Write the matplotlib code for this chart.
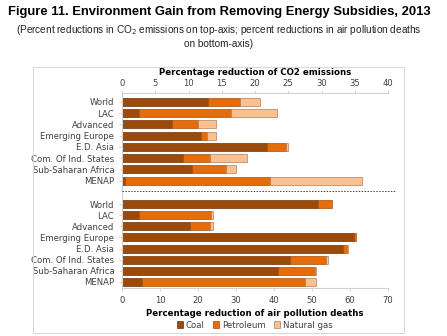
import matplotlib.pyplot as plt
from matplotlib.patches import Rectangle
from matplotlib.lines import Line2D
import numpy as np

regions = ["World", "LAC", "Advanced", "Emerging Europe", "E.D. Asia",
           "Com. Of Ind. States", "Sub-Saharan Africa", "MENAP"]

# CO2 emission reductions (segment sizes)
co2_coal = [12.9, 2.6, 7.5, 11.9, 21.8, 9.1, 10.6, 0.4]
co2_petroleum = [4.9, 13.8, 4.0, 0.9, 2.8, 4.1, 5.0, 21.8]
co2_gas = [3.0, 6.9, 2.7, 1.4, 0.4, 5.6, 1.6, 13.9]

# air pollution death reductions
death_coal = [51.6, 4.5, 17.9, 61.1, 58.1, 44.2, 41.0, 5.2]
death_petroleum = [3.6, 19.0, 5.3, 0.4, 1.2, 9.4, 9.9, 42.9]
death_gas = [0.1, 0.5, 0.8, 0.2, 0.2, 0.7, 0.1, 3.0]

series_names = ["Coal", "Petroleum", "Natural gas"]
colors = ["#9C4A0A", "#E46C0A", "#FAC08F"]
edges = ["#6E3306", "#A84E08", "#B07F5A"]

W, H = 447, 336
fig = plt.figure(figsize=(W / 100, H / 100), dpi=100)
plt.rcParams["font.family"] = ["DejaVu Sans"]


def fx(px):
    return px / W


def fy(py):
    return 1 - py / H


fig.text(fx(219), fy(12), "Figure 11. Environment Gain from Removing Energy Subsidies, 2013",
         ha="center", va="center", fontsize=9.35, fontweight="bold",
         family="Liberation Sans")
fig.text(fx(219), fy(36), "(Percent reductions in CO$_2$ emissions on top-axis; percent reductions in air pollution deaths\non bottom-axis)",
         ha="center", va="center", fontsize=7.2, family="Liberation Sans",
         color="#222222", linespacing=1.25)

# outer chart frame
fig.patches.append(Rectangle((fx(33), fy(333)), fx(404) - fx(33), fy(66.7) - fy(333),
                             transform=fig.transFigure, fill=False,
                             edgecolor="#D9D9D9", linewidth=0.8))

left, right = fx(122), fx(388)
ax_top = fig.add_axes([left, fy(191), right - left, fy(93.3) - fy(191)])
ax_bot = fig.add_axes([left, fy(288), right - left, fy(191) - fy(288)])

y = np.arange(len(regions))
bar_h = 0.72


def draw(ax, vals, xmax, step):
    base = np.zeros(len(regions))
    for v, c, e, name in zip(vals, colors, edges, series_names):
        ax.barh(y, v, left=base, height=bar_h, color=c, edgecolor=e,
                linewidth=0.5, label=name)
        base = base + np.array(v)
    ax.set_xlim(0, xmax)
    ax.set_xticks(np.arange(0, xmax + 1, step))
    ax.set_yticks(y)
    ax.set_yticklabels(regions)
    for s in ax.spines.values():
        s.set_visible(False)
    ax.tick_params(axis="both", labelsize=6.1, colors="#D0D0D0",
                   labelcolor="#404040", length=2.5, width=0.6, pad=3)


draw(ax_top, [co2_coal, co2_petroleum, co2_gas], 40, 5)
ax_top.set_ylim(7 + 0.92, -0.77)
ax_top.xaxis.tick_top()
ax_top.tick_params(axis="x", pad=1.5)
ax_top.spines["top"].set_visible(True)
ax_top.spines["left"].set_visible(True)
ax_top.spines["top"].set_color("#D0D0D0")
ax_top.spines["left"].set_color("#D0D0D0")
ax_top.set_xlabel("Percentage reduction of CO2 emissions", fontsize=6.2,
                  fontweight="bold")
ax_top.xaxis.set_label_position("top")
ax_top.xaxis.set_label_coords(0.5, (fy(72.5) - fy(191)) / (fy(93.3) - fy(191)))
ax_top.xaxis.label.set_va("center")

draw(ax_bot, [death_coal, death_petroleum, death_gas], 70, 10)
ax_bot.set_ylim(7 + 0.54, -1.17)
ax_bot.spines["bottom"].set_visible(True)
ax_bot.spines["left"].set_visible(True)
ax_bot.spines["bottom"].set_color("#D0D0D0")
ax_bot.spines["left"].set_color("#D0D0D0")
ax_bot.set_xlabel("Percentage reduction of air pollution deaths", fontsize=6.2,
                  fontweight="bold")
ax_bot.xaxis.set_label_coords(0.5, (fy(313) - fy(288)) / (fy(191) - fy(288)))
ax_bot.xaxis.label.set_va("center")

# dashed separator
fig.add_artist(Line2D([fx(122), fx(395)], [fy(191), fy(191)], transform=fig.transFigure,
                      color="#404040", linestyle=(0, (1.5, 1.5)), linewidth=0.7))

handles, labels = ax_bot.get_legend_handles_labels()
fig.legend(handles, labels, loc="center", bbox_to_anchor=(fx(255), fy(325)),
           ncol=3, frameon=False, fontsize=6.2, handlelength=0.7, handleheight=0.7,
           handletextpad=0.3, columnspacing=1.0, labelcolor="#404040")

fig.savefig("out.png", dpi=100)
